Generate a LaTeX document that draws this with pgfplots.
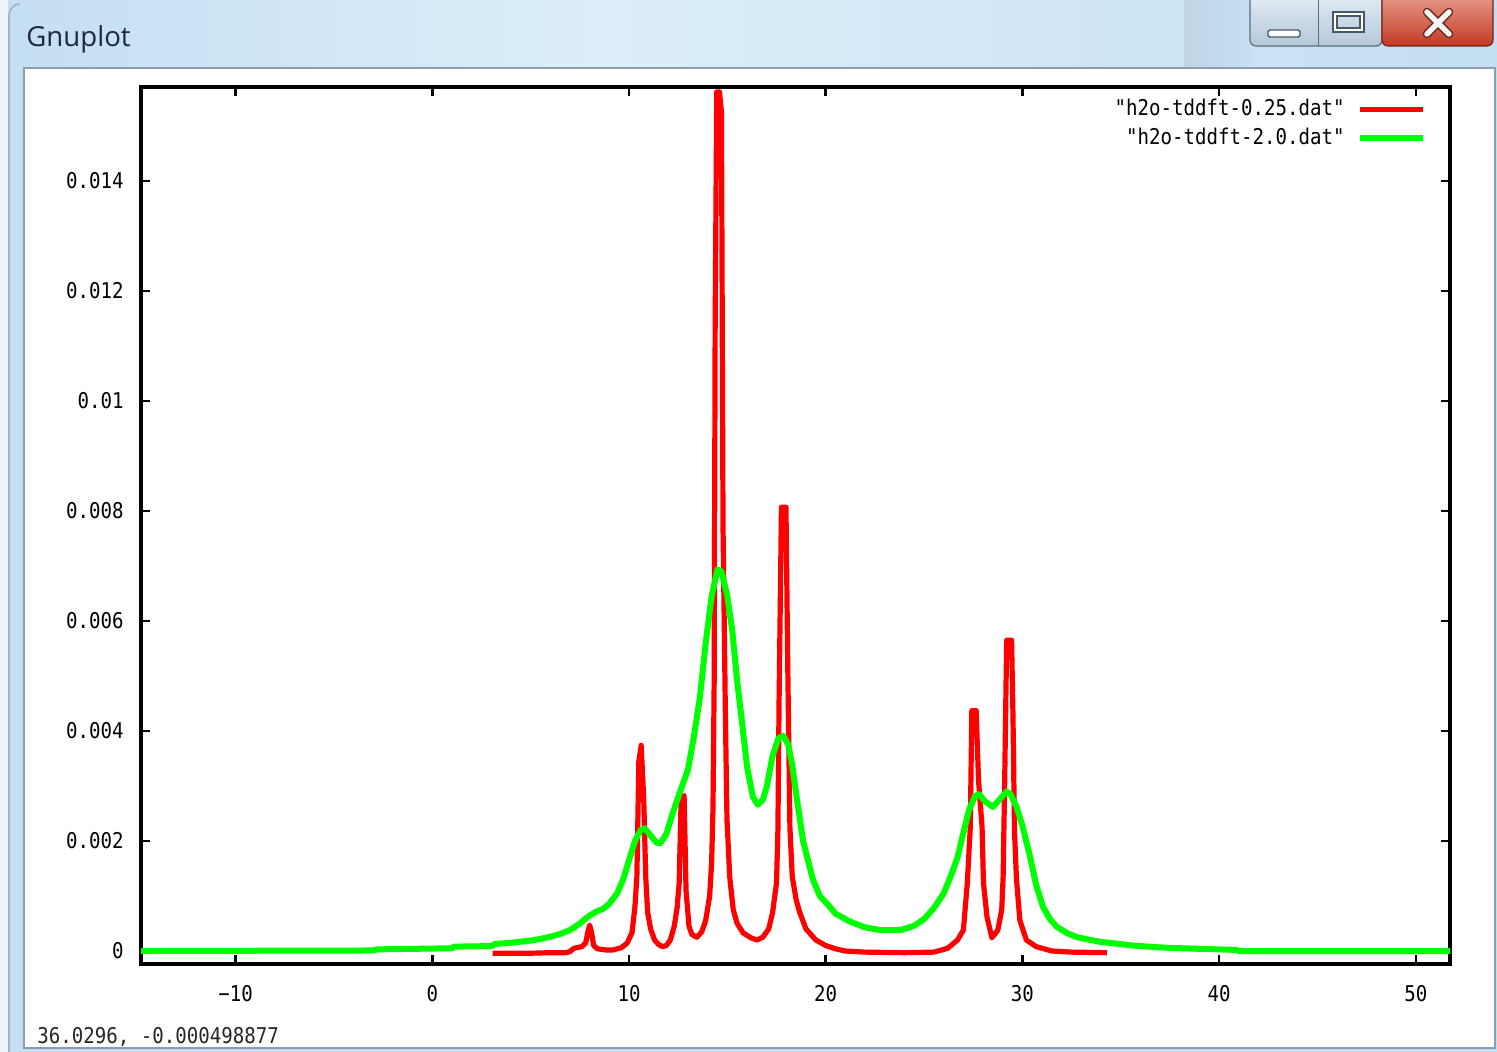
\documentclass[border=0pt]{standalone}
\usepackage{fontspec}
\usepackage{pgfplots}
\pgfplotsset{compat=1.18}
\newfontfamily\gpfont[FakeStretch=0.88]{DejaVu Sans Mono}
\newfontfamily\titlefont{Open Sans}
\newcommand{\gplabel}{\gpfont\fontsize{10.85}{13}\selectfont}
\definecolor{winbg}{HTML}{C4DEF2}
\definecolor{winlight}{HTML}{DCEEFA}
\definecolor{titlecol}{HTML}{1B2A40}
\definecolor{clientborder}{HTML}{8C9DAE}
\definecolor{btnborder}{HTML}{5C6D80}
\definecolor{btntop}{HTML}{E4EDF5}
\definecolor{btnbot}{HTML}{B4C8DA}
\definecolor{closetop}{HTML}{E8A090}
\definecolor{closebot}{HTML}{C23A24}
\definecolor{gpred}{RGB}{255,0,0}
\definecolor{gpgreen}{RGB}{0,255,0}
\begin{document}
\begin{tikzpicture}
\useasboundingbox (0,0) rectangle (748.5pt,-526pt);
% window frame
\fill[winbg] (0,0) rectangle (748.5pt,-526pt);
\shade[left color=winbg, right color=winlight] (0,0) rectangle (300pt,-34pt);
\shade[left color=winlight, right color=winbg] (300pt,0) rectangle (748.5pt,-34pt);
\shade[left color=winbg!80!gray, right color=winbg, opacity=0.6] (592pt,0) rectangle (625pt,-34pt);
\fill[white!70!winbg] (0,0) rectangle (4pt,-526pt);
\draw[clientborder!80!white, line width=0.8pt] (4.5pt,-526pt) -- (4.5pt,-8pt) to[out=90,in=180] (10pt,-2pt);
% client area
\filldraw[fill=white, draw=clientborder, line width=0.6pt] (12pt,-34pt) rectangle (747.5pt,-524pt);
% title
\node[anchor=base west, inner sep=0pt, font=\titlefont\fontsize{13.8}{16}\selectfont, text=titlecol] at (13pt,-23.2pt) {Gnuplot};
% buttons
\shade[top color=btntop, bottom color=btnbot, draw=btnborder, rounded corners=3pt, line width=0.6pt] (625pt,4pt) rectangle (691pt,-23pt);
\draw[btnborder, line width=0.5pt] (659pt,0pt) -- (659pt,-23pt);
\shade[top color=closetop, bottom color=closebot, draw=closebot!60!black, rounded corners=3pt, line width=0.6pt] (691pt,4pt) rectangle (746.5pt,-23pt);
\filldraw[fill=white, draw=btnborder!80!black, line width=0.7pt, rounded corners=0.8pt] (634pt,-15pt) rectangle (650pt,-18.5pt);
\draw[btnborder!80!black, line width=2.6pt] (667.5pt,-7pt) rectangle (681pt,-15pt);
\draw[white, line width=1.4pt] (667.5pt,-7pt) rectangle (681pt,-15pt);
\draw[closebot!50!black, line width=4.2pt, line cap=round] (713.5pt,-6pt) -- (724.5pt,-17pt) (724.5pt,-6pt) -- (713.5pt,-17pt);
\draw[white!92!gray, line width=2.8pt, line cap=round] (713.5pt,-6pt) -- (724.5pt,-17pt) (724.5pt,-6pt) -- (713.5pt,-17pt);
% status line
\node[anchor=base west, inner sep=0pt, font=\gplabel, text=black!85] at (18.5pt,-521.6pt) {36.0296, -0.000498877};
\begin{axis}[
  at={(70.5pt,-482pt)}, anchor=south west,
  scale only axis, width=654.5pt, height=438.5pt,
  xmin=-14.81, xmax=51.74, ymin=-0.000236, ymax=0.015709,
  axis line style={line width=1.6pt, black},
  tick align=inside, major tick length=4.5pt,
  every tick/.style={black, line width=1.3pt},
  xtick={-10,0,10,20,30,40,50},
  xticklabels={−10,0,10,20,30,40,50},
  ytick={0,0.002,0.004,0.006,0.008,0.01,0.012,0.014},
  yticklabels={0,0.002,0.004,0.006,0.008,0.01,0.012,0.014},
  scaled y ticks=false, scaled x ticks=false,
  ticklabel style={font=\gplabel},
  xticklabel style={anchor=north, inner sep=0pt, yshift=-10.5pt},
  yticklabel style={anchor=east, inner sep=0pt, xshift=-8.5pt},
  legend style={draw=none, fill=none, at={(1,1)}, anchor=north east,
    xshift=-12pt, yshift=-4pt, inner sep=0pt, row sep=0.5pt,
    column sep=4pt, font=\gplabel},
  legend cell align=right, legend plot pos=right,
  legend image code/.code={\draw[#1] (0pt,0pt) -- (31.5pt,0pt);},
]
\addplot[gpred, line width=2.6pt, line join=round] coordinates {
(3.07,-0.00004) (4.0,-0.00004) (5.0,-0.00004) (6.0,-0.00003) (6.8,-0.00003)
(7.0,-0.00001) (7.2,0.00005) (7.6,0.00008) (7.8,0.00015) (7.9,0.00033)
(8.0,0.00047) (8.1,0.00033) (8.2,0.00010) (8.4,0.00004) (8.8,0.00002)
(9.2,0.00002) (9.6,0.00006) (9.9,0.00014) (10.15,0.00033) (10.3,0.00080)
(10.4,0.00135) (10.5,0.00345) (10.62,0.00374) (10.75,0.00275) (10.85,0.00135)
(10.95,0.00070) (11.1,0.00040) (11.3,0.00020) (11.5,0.00012) (11.7,0.00008)
(11.9,0.00010) (12.1,0.00020) (12.3,0.00045) (12.45,0.00080) (12.55,0.00124)
(12.65,0.00275) (12.8,0.00283) (12.9,0.00110) (13.05,0.00045) (13.2,0.00030)
(13.45,0.00025) (13.7,0.00035) (13.9,0.00056) (14.1,0.00100) (14.2,0.00160)
(14.27,0.00260) (14.33,0.00490) (14.38,0.01140) (14.46,0.01562) (14.6,0.01562)
(14.7,0.01525) (14.78,0.00770) (14.9,0.00430) (14.98,0.00240) (15.12,0.00135)
(15.3,0.00075) (15.5,0.00050) (15.8,0.00033) (16.2,0.00024) (16.5,0.00020)
(16.8,0.00025) (17.1,0.00040) (17.3,0.00070) (17.5,0.00124) (17.57,0.00220)
(17.63,0.00456) (17.75,0.00807) (17.98,0.00807) (18.07,0.00520) (18.18,0.00225)
(18.3,0.00135) (18.5,0.00093) (18.68,0.00070) (19.0,0.00040) (19.5,0.00020)
(20.0,0.00010) (20.5,0.00004) (21.0,0.00000) (22.0,-0.00002) (24.0,-0.00003)
(25.5,-0.00002) (26.2,0.00005) (26.7,0.00020) (27.0,0.00038) (27.2,0.00124)
(27.35,0.00225) (27.43,0.00437) (27.65,0.00437) (27.77,0.00310) (27.95,0.00225)
(28.02,0.00124) (28.2,0.00062) (28.45,0.00024) (28.75,0.00038) (28.95,0.00075)
(29.02,0.00135) (29.1,0.00310) (29.2,0.00565) (29.45,0.00565) (29.52,0.00430)
(29.6,0.00215) (29.7,0.00130) (29.87,0.00056) (30.2,0.00020) (30.7,0.00008)
(31.5,0.00000) (32.5,-0.00002) (34.3,-0.00003)
};
\addlegendentry{"h2o-tddft-0.25.dat"}
\addplot[gpgreen, line width=3pt, line join=round] coordinates {
(-15,0.00000) (-3.0,0.00001) (-2.8,0.00003) (1.0,0.00005) (1.1,0.00008)
(3.0,0.00009) (3.2,0.00013) (4.0,0.00015) (5.0,0.00019) (5.5,0.00022)
(6.0,0.00026) (6.5,0.00031) (7.0,0.00038) (7.5,0.00050) (7.9,0.00062)
(8.3,0.00071) (8.7,0.00077) (9.0,0.00086) (9.4,0.00105) (9.7,0.00130)
(10.0,0.00165) (10.3,0.00200) (10.6,0.00220) (10.8,0.00223) (11.1,0.00210)
(11.4,0.00197) (11.6,0.00196) (11.9,0.00213) (12.2,0.00248) (12.6,0.00290)
(13.0,0.00330) (13.3,0.00390) (13.6,0.00460) (13.9,0.00560) (14.2,0.00645)
(14.5,0.00694) (14.7,0.00690) (15.0,0.00645) (15.25,0.00582) (15.5,0.00490)
(15.75,0.00415) (16.0,0.00335) (16.3,0.00280) (16.55,0.00266) (16.8,0.00275)
(17.0,0.00298) (17.3,0.00355) (17.6,0.00387) (17.85,0.00391) (18.1,0.00375)
(18.3,0.00338) (18.5,0.00285) (18.85,0.00200) (19.35,0.00130) (19.7,0.00100)
(20.1,0.00085) (20.5,0.00068) (21.2,0.00054) (22.0,0.00043) (22.8,0.00038)
(23.8,0.00038) (24.5,0.00046) (25.0,0.00058) (25.5,0.00078) (26.0,0.00105)
(26.4,0.00140) (26.7,0.00170) (27.0,0.00215) (27.3,0.00258) (27.6,0.00282)
(27.8,0.00285) (28.1,0.00272) (28.5,0.00262) (28.9,0.00278) (29.2,0.00290)
(29.4,0.00285) (29.7,0.00262) (30.0,0.00228) (30.4,0.00170) (30.7,0.00120)
(31.05,0.00080) (31.4,0.00058) (31.75,0.00044) (32.3,0.00032) (32.8,0.00025)
(33.9,0.00017) (35.6,0.00010) (37.3,0.00006) (39.0,0.00004) (40.9,0.00002)
(41.0,0.00000) (52.0,0.00000)
};
\addlegendentry{"h2o-tddft-2.0.dat"}
\end{axis}
\end{tikzpicture}
\end{document}
